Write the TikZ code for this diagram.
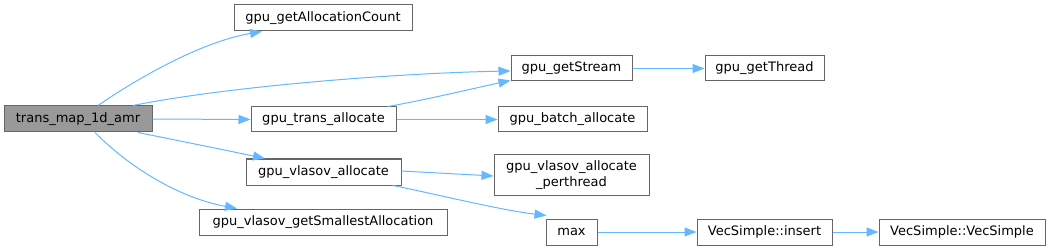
\documentclass[tikz,border=0pt]{standalone}
\usepackage{fontspec}
\setmainfont{DejaVu Sans}
\usetikzlibrary{arrows.meta}
\definecolor{edgec}{HTML}{63B8FF}
\definecolor{bordc}{HTML}{666666}
\definecolor{mainfill}{HTML}{999999}
\begin{document}
\begin{tikzpicture}[x=1pt,y=-1pt,
  box/.style={draw=bordc,line width=1pt,fill=white,inner sep=0pt,align=center,
    font=\fontsize{13}{15.5}\selectfont,text=black},
  mainbox/.style={box,fill=mainfill},
  edge/.style={draw=edgec,line width=1pt,-{Triangle[length=12pt,width=9pt]}}]
\useasboundingbox (0,0) rectangle (1052,251);
\node[mainbox,minimum width=148pt,minimum height=26pt] (main) at (78,119) {trans\_map\_1d\_amr};
\node[box,minimum width=178pt,minimum height=26pt] (alloccount) at (323,18) {gpu\_getAllocationCount};
\node[box,minimum width=121pt,minimum height=25pt] (getstream) at (571.5,68.5) {gpu\_getStream};
\node[box,minimum width=145pt,minimum height=25pt] (transalloc) at (323.5,119.5) {gpu\_trans\_allocate};
\node[box,minimum width=149pt,minimum height=25pt] (batch) at (572.5,119.5) {gpu\_batch\_allocate};
\node[box,minimum width=119pt,minimum height=25pt] (getthread) at (764.5,68.5) {gpu\_getThread};
\node[box,minimum width=155pt,minimum height=26pt] (vlasov) at (323.5,172) {gpu\_vlasov\_allocate};
\node[box,minimum width=155pt,minimum height=40pt] (perthread) at (571.5,175) {gpu\_vlasov\_allocate\\\_perthread};
\node[box,minimum width=248pt,minimum height=26pt] (smallest) at (323,222) {gpu\_vlasov\_getSmallestAllocation};
\node[box,minimum width=51pt,minimum height=26pt] (max) at (571.5,232) {max};
\node[box,minimum width=135pt,minimum height=26pt] (insert) at (764.5,232) {VecSimple::insert};
\node[box,minimum width=166pt,minimum height=26pt] (vecsimple) at (962,232) {VecSimple::VecSimple};
% edges
\draw[edge] ([xshift=20pt]main.north) .. controls (135,80) and (200,42) .. ([xshift=-61pt]alloccount.south);
\draw[edge] ([xshift=55pt]main.north) .. controls (230,86) and (400,73) .. ([yshift=-2.5pt]getstream.west);
\draw[edge] (main.east) -- (transalloc.west);
\draw[edge] ([xshift=64.5pt]transalloc.north) .. controls (430,99) and (475,88) .. ([yshift=1pt]getstream.south west);
\draw[edge] (transalloc.east) -- (batch.west);
\draw[edge] (getstream.east) -- (getthread.west);
\draw[edge] ([xshift=60pt]main.south) .. controls (180,141) and (225,150) .. ([xshift=-58.5pt]vlasov.north);
\draw[edge] ([xshift=17pt]main.south) .. controls (130,168) and (180,198) .. ([xshift=-86pt]smallest.north);
\draw[edge] ([yshift=1pt]vlasov.east) -- ([yshift=-1pt]perthread.west);
\draw[edge] ([xshift=69.5pt]vlasov.south) .. controls (440,195) and (500,210) .. ([xshift=1pt,yshift=3pt]max.north west);
\draw[edge] (max.east) -- (insert.west);
\draw[edge] (insert.east) -- (vecsimple.west);
\end{tikzpicture}
\end{document}
